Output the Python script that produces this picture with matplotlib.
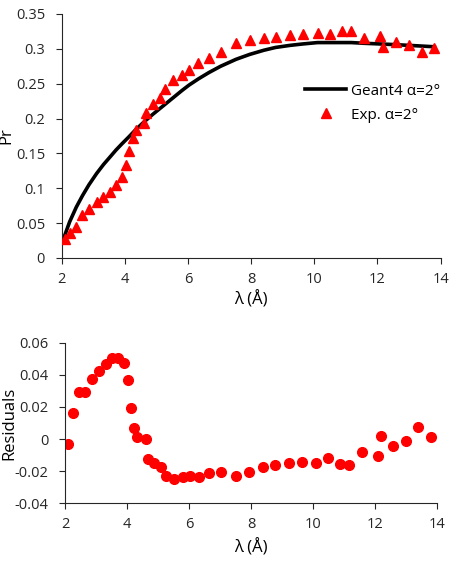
import matplotlib
matplotlib.use("Agg")
import matplotlib.pyplot as plt

plt.rcParams['font.family'] = ['Open Sans', 'DejaVu Sans']

# wavelength of the measured points
lam = [2.09, 2.25, 2.46, 2.65, 2.86, 3.10, 3.32, 3.53, 3.72, 3.91, 4.02, 4.13, 4.24, 4.34,
       4.60, 4.67, 4.88, 5.10, 5.26, 5.53, 5.80, 6.03, 6.33, 6.66, 7.03, 7.52, 7.95, 8.40,
       8.77, 9.23, 9.63, 10.10, 10.49, 10.87, 11.17, 11.57, 12.09, 12.19, 12.59, 12.99,
       13.40, 13.80]

# Exp. alpha=2 deg
exp_pr = [0.027, 0.036, 0.045, 0.061, 0.070, 0.081, 0.088, 0.094, 0.105, 0.116, 0.133, 0.154,
          0.172, 0.184, 0.193, 0.208, 0.221, 0.230, 0.242, 0.255, 0.263, 0.270, 0.279, 0.287,
          0.295, 0.308, 0.312, 0.315, 0.317, 0.320, 0.321, 0.323, 0.321, 0.325, 0.325, 0.315,
          0.318, 0.303, 0.310, 0.306, 0.296, 0.301]

residuals = [-0.0033, 0.0164, 0.0295, 0.0295, 0.0374, 0.0424, 0.0465, 0.0502, 0.0502, 0.0471,
             0.0368, 0.0191, 0.0067, 0.0015, -0.0002, -0.0126, -0.0151, -0.0172, -0.0230,
             -0.0251, -0.0234, -0.0230, -0.0234, -0.0213, -0.0203, -0.0228, -0.0207, -0.0176,
             -0.0161, -0.0147, -0.0141, -0.0147, -0.0120, -0.0157, -0.0161, -0.0078, -0.0105,
             0.0019, -0.0043, -0.0012, 0.0073, 0.0011]

# Geant4 alpha=2 deg curve
geant_x = [2.05, 2.25, 2.46, 2.65, 2.86, 3.10, 3.32, 3.53, 3.72, 3.91, 4.13, 4.34, 4.60, 4.88,
           5.26, 5.53, 5.80, 6.03, 6.33, 6.66, 7.03, 7.52, 7.95, 8.40, 8.77, 9.23, 9.63, 10.10,
           10.49, 10.87, 11.17, 11.57, 12.09, 12.59, 12.99, 13.40, 13.80]
geant_y = [0.027, 0.052, 0.073, 0.089, 0.105, 0.121, 0.134, 0.145, 0.155, 0.164, 0.174, 0.184,
           0.195, 0.206, 0.220, 0.230, 0.240, 0.248, 0.257, 0.266, 0.275, 0.285, 0.292, 0.298,
           0.302, 0.305, 0.307, 0.309, 0.309, 0.309, 0.309, 0.308, 0.307, 0.306, 0.305, 0.304,
           0.303]

x_ticks = [2, 4, 6, 8, 10, 12, 14]
top_yticks = [0, 0.05, 0.1, 0.15, 0.2, 0.25, 0.3, 0.35]
top_ylabels = ["0", "0.05", "0.1", "0.15", "0.2", "0.25", "0.3", "0.35"]
bot_yticks = [-0.04, -0.02, 0, 0.02, 0.04, 0.06]
bot_ylabels = ["-0.04", "-0.02", "0", "0.02", "0.04", "0.06"]

fig = plt.figure(figsize=(4.51, 5.69), dpi=100)
ax1 = fig.add_axes([0.137, 0.5466, 0.840, 0.4288])
ax2 = fig.add_axes([0.144, 0.1155, 0.825, 0.2822])

ax1.plot(geant_x, geant_y, color="black", lw=2.6, label="Geant4 α=2°", zorder=2)
ax1.plot(lam, exp_pr, ls="none", marker="^", ms=7.5, color="#ff0000", label="Exp. α=2°", zorder=3)
ax1.set_xlim(2, 14)
ax1.set_ylim(0, 0.35)
ax1.set_yticks(top_yticks)
ax1.set_yticklabels(top_ylabels)
ax1.set_ylabel("Pr", fontsize=12, labelpad=1)
ax1.set_xlabel("λ (Å)", fontsize=12, labelpad=3)
ax1.legend(loc="upper right", bbox_to_anchor=(1.015, 0.74), frameon=False, fontsize=11,
           handlelength=2.7, handletextpad=0.3, labelspacing=0.6, borderaxespad=0)

ax2.plot(lam, residuals, ls="none", marker="o", ms=7, color="#ff0000")
ax2.set_xlim(2, 14)
ax2.set_ylim(-0.04, 0.06)
ax2.set_yticks(bot_yticks)
ax2.set_yticklabels(bot_ylabels)
ax2.set_ylabel("Residuals", fontsize=12, labelpad=-2)
ax2.set_xlabel("λ (Å)", fontsize=12, labelpad=5)

for ax in (ax1, ax2):
    ax.set_xticks(x_ticks)
    ax.spines["top"].set_visible(False)
    ax.spines["right"].set_visible(False)
    ax.spines["left"].set_color("#262626")
    ax.spines["bottom"].set_color("#262626")
    ax.tick_params(direction="out", length=4, width=0.8, labelsize=10.5, colors="#262626")
    ax.tick_params(axis="y", pad=8)
    ax.tick_params(axis="x", pad=6)

fig.savefig("out.png", dpi=100)
plt.close(fig)
